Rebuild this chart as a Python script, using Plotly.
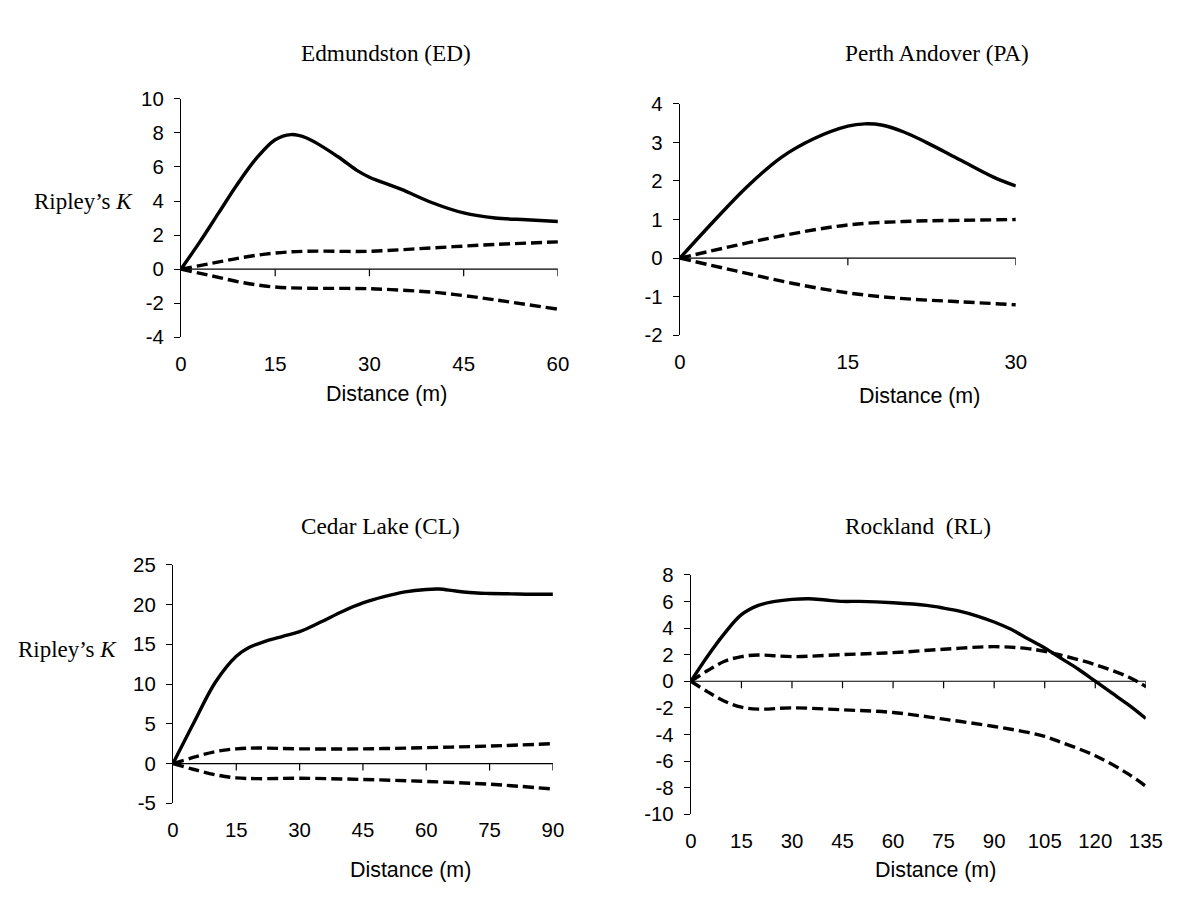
import plotly.graph_objects as go

W, H = 1200, 913

# ---------------- data ----------------
ed_sol_x = [0, 3, 6, 9, 12, 15, 17.5, 20, 25, 28, 30, 35, 40, 45, 50, 55, 60]
ed_sol_y = [0, 1.6, 3.3, 5.0, 6.5, 7.6, 7.9, 7.7, 6.6, 5.8, 5.4, 4.7, 3.9, 3.3, 3.0, 2.9, 2.8]
ed_up_x = [0, 5, 10, 15, 20, 30, 40, 50, 60]
ed_up_y = [0, 0.35, 0.7, 0.95, 1.05, 1.05, 1.25, 1.45, 1.6]
ed_lo_x = [0, 5, 10, 15, 20, 30, 40, 45, 50, 60]
ed_lo_y = [0, -0.4, -0.8, -1.05, -1.12, -1.15, -1.35, -1.55, -1.8, -2.35]

pa_sol_x = [0, 3, 6, 9, 12, 15, 16.5, 18, 20, 22, 25, 28, 30]
pa_sol_y = [0, 0.95, 1.85, 2.6, 3.1, 3.42, 3.48, 3.45, 3.27, 3.0, 2.55, 2.1, 1.87]
pa_up_x = [0, 5, 10, 15, 20, 25, 30]
pa_up_y = [0, 0.33, 0.63, 0.86, 0.95, 0.98, 1.0]
pa_lo_x = [0, 5, 10, 15, 20, 25, 30]
pa_lo_y = [0, -0.33, -0.65, -0.9, -1.05, -1.13, -1.21]

cl_sol_x = [0, 5, 10, 15, 18, 22, 26, 30, 35, 40, 45, 50, 55, 60, 63, 67, 72, 75, 80, 85, 90]
cl_sol_y = [0, 5.2, 10.2, 13.5, 14.6, 15.4, 16.0, 16.6, 17.8, 19.1, 20.2, 21.0, 21.6, 21.9, 21.95, 21.7, 21.45, 21.4, 21.35, 21.3, 21.3]
cl_up_x = [0, 5, 10, 15, 20, 30, 45, 60, 75, 90]
cl_up_y = [0, 0.8, 1.5, 1.85, 1.95, 1.85, 1.85, 2.0, 2.2, 2.5]
cl_lo_x = [0, 5, 10, 15, 20, 30, 45, 60, 75, 90]
cl_lo_y = [0, -0.75, -1.4, -1.8, -1.9, -1.85, -2.0, -2.25, -2.6, -3.2]

rl_sol_x = [0, 5, 10, 15, 20, 25, 30, 35, 40, 45, 50, 60, 70, 75, 80, 85, 90, 95, 100, 105, 110, 115, 120, 125, 130, 135]
rl_sol_y = [0, 1.9, 3.6, 5.0, 5.7, 6.0, 6.15, 6.2, 6.1, 6.0, 6.0, 5.9, 5.7, 5.5, 5.25, 4.9, 4.45, 3.9, 3.2, 2.5, 1.7, 0.9, 0.0, -0.9, -1.8, -2.8]
rl_up_x = [0, 5, 10, 15, 20, 30, 45, 60, 75, 90, 100, 105, 110, 120, 130, 135]
rl_up_y = [0, 0.8, 1.5, 1.85, 1.97, 1.85, 2.0, 2.15, 2.4, 2.6, 2.45, 2.25, 1.95, 1.25, 0.3, -0.4]
rl_lo_x = [0, 5, 10, 15, 20, 30, 45, 60, 75, 90, 100, 105, 110, 120, 130, 135]
rl_lo_y = [0, -0.8, -1.5, -1.95, -2.1, -2.0, -2.15, -2.35, -2.85, -3.4, -3.85, -4.15, -4.6, -5.6, -7.0, -7.9]

titles = ["Edmundston (ED)", "Perth Andover (PA)", "Cedar Lake (CL)", "Rockland  (RL)"]
x_ticks = [[0, 15, 30, 45, 60], [0, 15, 30], [0, 15, 30, 45, 60, 75, 90],
           [0, 15, 30, 45, 60, 75, 90, 105, 120, 135]]
y_ticks = [[-4, -2, 0, 2, 4, 6, 8, 10], [-2, -1, 0, 1, 2, 3, 4],
           [-5, 0, 5, 10, 15, 20, 25], [-10, -8, -6, -4, -2, 0, 2, 4, 6, 8]]
y_ranges = [[-4, 10], [-2, 4], [-5, 25], [-10, 8]]
x_ranges = [[0, 60], [0, 30], [0, 90], [0, 135]]

panels = [
    (ed_sol_x, ed_sol_y, ed_up_x, ed_up_y, ed_lo_x, ed_lo_y),
    (pa_sol_x, pa_sol_y, pa_up_x, pa_up_y, pa_lo_x, pa_lo_y),
    (cl_sol_x, cl_sol_y, cl_up_x, cl_up_y, cl_lo_x, cl_lo_y),
    (rl_sol_x, rl_sol_y, rl_up_x, rl_up_y, rl_lo_x, rl_lo_y),
]

# ---------------- layout geometry (target pixels in the picture) ----------------
boxes = [(181, 558, 98, 337), (680, 1016, 103, 335), (173, 553, 565, 804), (691, 1146, 575, 815)]
title_pos = [(386, 52), (937, 52), (381, 526), (918, 526)]
xtitle_pos = [(387, 394), (920, 396), (411, 871), (936, 871)]
ripley_pos = [(84, 201), (68, 650)]

# the captured picture maps page pixels as: pic = offset + scale * page
SX, OX = 0.981, 6.0
SY, OY = 0.978, 10.0
K = 1 / 0.98  # size compensation


def px(x):
    return (x - OX) / SX / W


def py(y):
    return 1 - (y - OY) / SY / H


SERIF = "Liberation Serif, Times New Roman, serif"
SANS = "Liberation Sans, Arial, sans-serif"
TICKFONT = dict(family=SANS, size=20 * K, color="black")

fig = go.Figure()
layout = dict(width=W, height=H, margin=dict(l=0, r=0, t=0, b=0), autosize=False,
              paper_bgcolor="white", plot_bgcolor="white", showlegend=False)
shapes = []
annotations = []

LW = 3.4
dash_style = "11px,5px"

for i, (p, box) in enumerate(zip(panels, boxes)):
    n = i + 1
    xa = "x" if n == 1 else f"x{n}"
    ya = "y" if n == 1 else f"y{n}"
    sx, sy, ux, uy, lx, ly = p
    fig.add_trace(go.Scatter(x=sx, y=sy, mode="lines", xaxis=xa, yaxis=ya,
                             line=dict(color="black", width=LW, shape="spline", smoothing=1.0)))
    fig.add_trace(go.Scatter(x=ux, y=uy, mode="lines", xaxis=xa, yaxis=ya,
                             line=dict(color="black", width=LW, dash=dash_style, shape="spline", smoothing=1.0)))
    fig.add_trace(go.Scatter(x=lx, y=ly, mode="lines", xaxis=xa, yaxis=ya,
                             line=dict(color="black", width=LW, dash=dash_style, shape="spline", smoothing=1.0)))
    x0, x1, y0, y1 = box
    xkey = "xaxis" if n == 1 else f"xaxis{n}"
    ykey = "yaxis" if n == 1 else f"yaxis{n}"
    layout[xkey] = dict(domain=[px(x0), px(x1)], anchor=ya, range=x_ranges[i],
                        tickmode="array", tickvals=x_ticks[i], ticktext=[str(v) for v in x_ticks[i]],
                        showgrid=False, zeroline=False, showline=False,
                        ticks="outside", ticklen=8, tickcolor="rgba(0,0,0,0)",
                        tickfont=TICKFONT, fixedrange=True)
    layout[ykey] = dict(domain=[py(y1), py(y0)], anchor=xa, range=y_ranges[i],
                        tickmode="array", tickvals=y_ticks[i], ticktext=[str(v) for v in y_ticks[i]],
                        showgrid=False, zeroline=False,
                        showline=True, linecolor="black", linewidth=1.2,
                        ticks="outside", ticklen=6, tickcolor="black", tickwidth=1.2,
                        ticklabelstandoff=6, tickfont=TICKFONT, fixedrange=True)
    # x axis line crossing at y = 0
    shapes.append(dict(type="line", xref=xa, yref=ya, x0=x_ranges[i][0], x1=x_ranges[i][1],
                       y0=0, y1=0, line=dict(color="black", width=1.2), layer="below"))
    for t in x_ticks[i][1:]:
        shapes.append(dict(type="line", xref=xa, yref=ya, x0=t, x1=t,
                           ysizemode="pixel", yanchor=0, y0=0, y1=-7,
                           line=dict(color="black", width=1.2)))
    tx, ty = title_pos[i]
    annotations.append(dict(text=titles[i], x=px(tx), y=py(ty), xref="paper", yref="paper",
                            xanchor="center", yanchor="middle", showarrow=False,
                            font=dict(family=SERIF, size=22.8 * K, color="black")))
    dx, dy = xtitle_pos[i]
    annotations.append(dict(text="Distance (m)", x=px(dx), y=py(dy), xref="paper", yref="paper",
                            xanchor="center", yanchor="middle", showarrow=False,
                            font=dict(family=SANS, size=21 * K, color="black")))

for rx, ry in ripley_pos:
    annotations.append(dict(text="Ripley’s <i>K</i>", x=px(rx), y=py(ry), xref="paper", yref="paper",
                            xanchor="center", yanchor="middle", showarrow=False,
                            font=dict(family=SERIF, size=22.5 * K, color="black")))

layout["shapes"] = shapes
layout["annotations"] = annotations
fig.update_layout(**layout)
fig.write_html("out.html", config={"displayModeBar": False, "responsive": False},
               post_script="document.body.style.margin='0';document.body.style.padding='0';"
                           "document.documentElement.style.overflow='hidden';")
